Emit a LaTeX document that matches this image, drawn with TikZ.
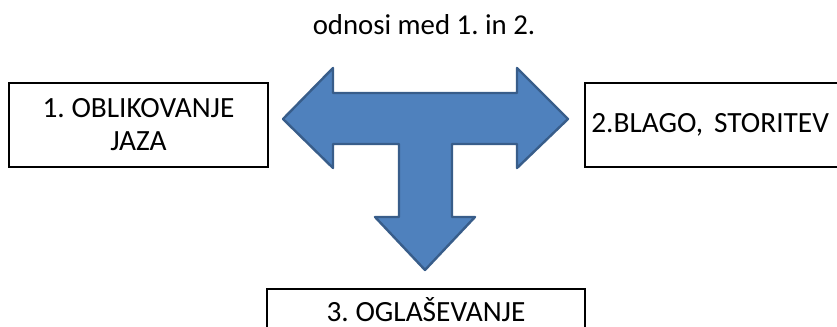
\documentclass[tikz,border=0pt]{standalone}
\usepackage{fontspec}
\setmainfont{Carlito}
\usetikzlibrary{positioning}

\definecolor{arrowfill}{RGB}{79,129,189}
\definecolor{arrowline}{RGB}{56,93,138}

\tikzset{
  label box/.style={draw=black,line width=1.8pt,inner sep=0pt},
  box text/.style={font=\fontsize{22}{24.75}\selectfont\frenchspacing},
}

\begin{document}
\begin{tikzpicture}[x=0.75pt,y=-0.75pt]
\useasboundingbox (0,0) rectangle (837,327);
\node[font=\fontsize{21.6}{24.75}\selectfont\frenchspacing,anchor=base] (naslov) at (424,35) {odnosi med 1. in 2.};
% T-shaped arrow
\draw[fill=arrowfill,draw=arrowline,line width=1.8pt,line join=round]
  (283,119) -- (333,68) -- (333,93) -- (517,93) -- (517,68) -- (568,119)
  -- (517,168) -- (517,144) -- (452,144) -- (452,217) -- (475,217)
  -- (425,270) -- (375,217) -- (399,217) -- (399,144) -- (333,144)
  -- (333,168) -- cycle;
\node[label box,box text,minimum width=259*0.75pt,minimum height=84*0.75pt,align=center] (jaz) at (138.5,125)
  {1. OBLIKOVANJE\\JAZA};
\node[label box,minimum width=262*0.75pt,minimum height=84*0.75pt] (blago) at (716,125) {};
\node[box text,anchor=base west,inner sep=0pt] (blagotxt) at (591,133) {2.BLAGO,\hspace{0.15em} STORITEV};
\node[label box,minimum width=318*0.75pt,minimum height=70*0.75pt] (oglas) at (426,324) {};
\node[box text,anchor=base] (oglastxt) at (426,321) {3. OGLAŠEVANJE};
\end{tikzpicture}
\end{document}
